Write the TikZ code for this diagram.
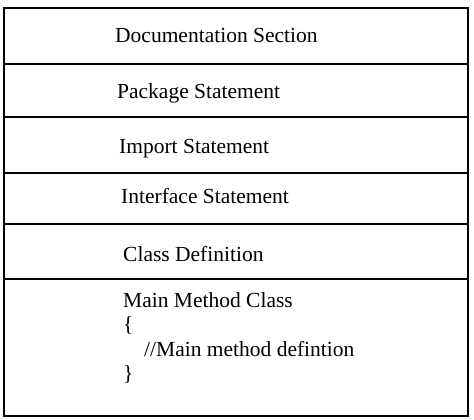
\documentclass[tikz,border=0pt]{standalone}
\usepackage{fontspec}
\setmainfont{Liberation Serif}
\usetikzlibrary{positioning}
\begin{document}
\begin{tikzpicture}[x=1pt,y=-1pt]
\tikzstyle{row}=[draw, line width=2.5pt, minimum width=464pt, inner sep=0pt, outer sep=0pt]
\tikzstyle{lbl}=[anchor=base west, inner sep=0pt, font=\fontsize{21.5}{24}\selectfont]
\useasboundingbox (0,0) rectangle (474,420);

\node[row, minimum height=56pt, anchor=north west] (doc) at (4,8) {};
\node[row, minimum height=53pt, below=0pt of doc] (pkg) {};
\node[row, minimum height=56pt, below=0pt of pkg] (imp) {};
\node[row, minimum height=51pt, below=0pt of imp] (intf) {};
\node[row, minimum height=55pt, below=0pt of intf] (cls) {};
\node[row, minimum height=137pt, below=0pt of cls] (main) {};
\foreach \n/\t/\x/\y in {doc/Documentation Section/115/43, pkg/Package Statement/117/99, imp/Import Statement/119/153, intf/Interface Statement/121/203, cls/Class Definition/123/261, mainA/Main Method Class/123/307, mainB/\{/123/331.5, mainC/{//Main method defintion}/144/356, mainD/\}/123/380}{\node[lbl] (\n-lbl) at (\x,\y) {\t};}
\end{tikzpicture}
\end{document}
